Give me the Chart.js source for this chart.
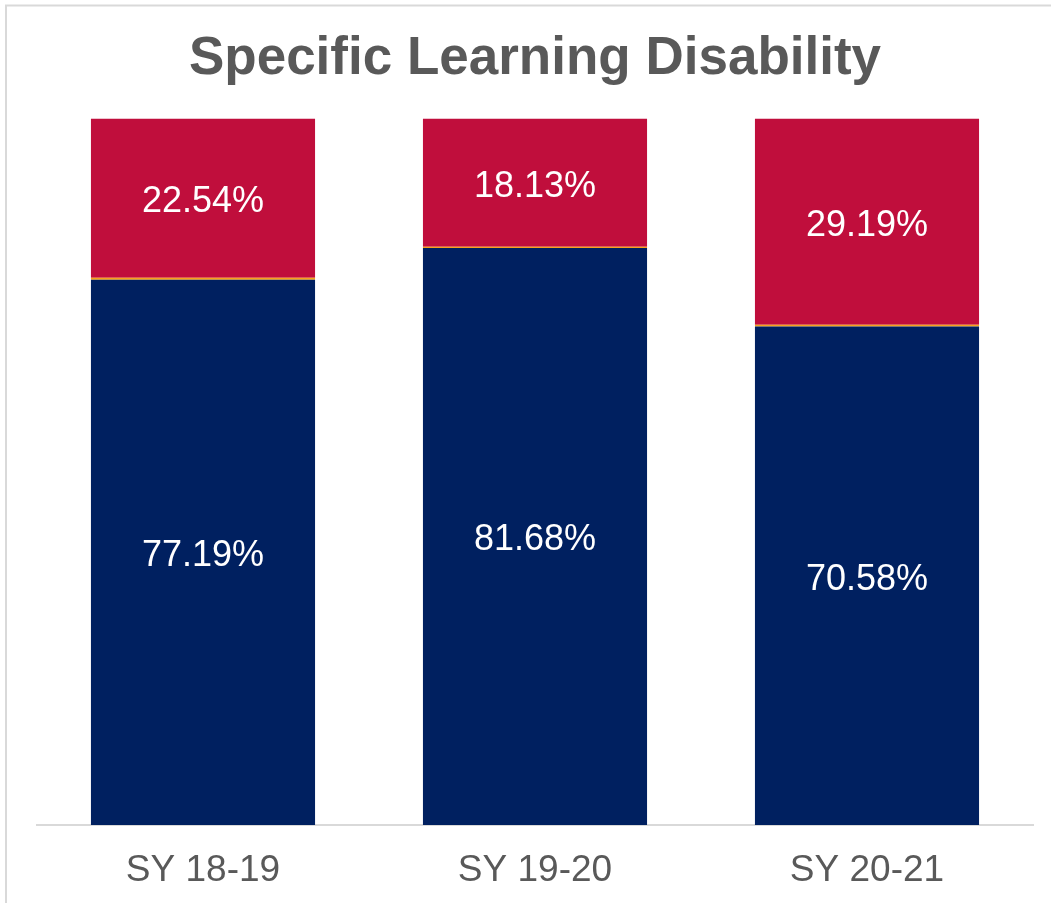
<!DOCTYPE html>
<html>
<head>
<meta charset="utf-8">
<script src="https://cdn.jsdelivr.net/npm/chart.js@4"></script>
<style>
  html, body { margin: 0; padding: 0; background: #ffffff; }
  #wrap { width: 1051px; height: 903px; position: relative; }
</style>
</head>
<body>
<div id="wrap"><canvas id="c" width="1051" height="903"></canvas></div>
<script>
const categories = ['SY 18-19', 'SY 19-20', 'SY 20-21'];
const seriesNavy = [77.19, 81.68, 70.58];
const seriesOrange = [0.27, 0.19, 0.23];
const seriesRed = [22.54, 18.13, 29.19];
const chartTitle = 'Specific Learning Disability';

const frameAndLabels = {
  id: 'frameAndLabels',
  beforeDraw(chart) {
    const ctx = chart.ctx;
    ctx.save();
    ctx.strokeStyle = '#d9d9d9';
    ctx.lineWidth = 2;
    ctx.beginPath();
    ctx.moveTo(6, 903);
    ctx.lineTo(6, 5.5);
    ctx.lineTo(1051, 5.5);
    ctx.stroke();
    ctx.restore();
  },
  afterDatasetsDraw(chart) {
    const ctx = chart.ctx;
    ctx.save();
    ctx.fillStyle = '#ffffff';
    ctx.font = '36px "Liberation Sans", Arial, sans-serif';
    ctx.textAlign = 'center';
    ctx.textBaseline = 'middle';
    chart.data.datasets.forEach((ds, i) => {
      if (!ds.showLabel) return;
      const meta = chart.getDatasetMeta(i);
      meta.data.forEach((bar, j) => {
        const v = ds.data[j];
        const y = (bar.y + bar.base) / 2 + 4;
        ctx.fillText(v.toFixed(2) + '%', bar.x, y);
      });
    });
    ctx.restore();
  }
};

new Chart(document.getElementById('c'), {
  type: 'bar',
  data: {
    labels: categories,
    datasets: [
      { label: 'Navy', data: seriesNavy, backgroundColor: '#002060', showLabel: true,
        barPercentage: 0.675, categoryPercentage: 1.0 },
      { label: 'Orange', data: seriesOrange, backgroundColor: '#f7a21b', showLabel: false,
        barPercentage: 0.675, categoryPercentage: 1.0 },
      { label: 'Red', data: seriesRed, backgroundColor: '#c00e3c', showLabel: true,
        barPercentage: 0.675, categoryPercentage: 1.0 }
    ]
  },
  options: {
    responsive: false,
    animation: false,
    layout: { padding: { left: 37, right: 18, top: 0, bottom: 0 } },
    plugins: {
      legend: { display: false },
      tooltip: { enabled: false },
      title: {
        display: true,
        text: chartTitle,
        color: '#595959',
        font: { family: '"Liberation Sans", Arial, sans-serif', size: 53, weight: 'bold' },
        padding: { top: 28, bottom: 27 }
      }
    },
    scales: {
      x: {
        stacked: true,
        grid: { display: false, drawTicks: false },
        border: { display: true, color: '#d9d9d9', width: 2 },
        ticks: {
          color: '#595959',
          font: { family: '"Liberation Sans", Arial, sans-serif', size: 37 },
          padding: 24,
          maxRotation: 0
        },
        afterFit(scale) { scale.height = 78; }
      },
      y: {
        stacked: true,
        display: false,
        min: 0,
        max: 100
      }
    }
  },
  plugins: [frameAndLabels]
});
</script>
</body>
</html>
